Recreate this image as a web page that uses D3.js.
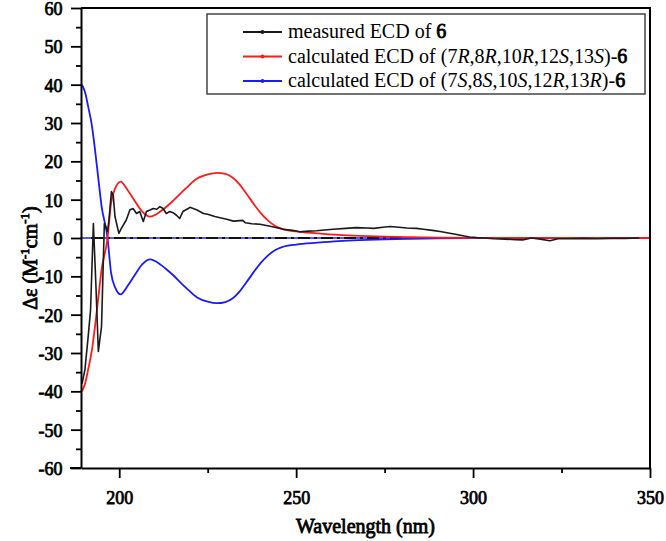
<!DOCTYPE html>
<html><head><meta charset="utf-8">
<script src="https://cdn.jsdelivr.net/npm/d3@7/dist/d3.min.js"></script>
<style>body{margin:0;background:#fff}svg{display:block}text{font-family:"Liberation Serif","Times New Roman",serif}</style>
</head><body><svg id="c" width="666" height="541"></svg>
<script>
// wavelength (nm) / Δε values
const measuredNm = [189.5,190.3,191.2,191.9,192.7,193.4,194.1,195.0,195.8,196.2,196.7,197.1,197.8,198.3,198.8,199.9,200.6,202.0,203.0,203.9,204.9,205.8,206.8,207.7,208.7,209.6,210.6,211.5,212.4,213.3,214.3,215.2,216.1,217.1,218.0,219.5,220.0,222.0,223.8,225.0,227.0,228.5,230.4,232.3,234.9,235.6,237.5,239.8,243.0,246.4,249.0,251.0,253.5,255.8,258.0,260.5,264.0,267.0,270.0,272.0,274.5,276.6,279.0,281.3,284.0,286.0,288.5,290.7,293.0,295.4,297.5,299.0,301.0,303.0,306.0,309.0,312.0,314.0,316.5,319.0,321.7,324.0,327.0,331.0,335.0,339.0,343.0,347.0];
const measuredDe = [-38,-34.4,-26,-18.8,3.8,-12,-29.6,-23.1,3.8,3.0,1.7,4.7,12.1,11.2,5.6,1.2,2.5,4.7,7.3,7.7,6.4,6.9,4.3,6.9,7.3,7.7,7.5,8.2,7.7,6.4,6.9,6.6,6.0,5.1,6.9,7.7,8.0,7.3,6.4,6.2,5.6,5.3,4.9,4.4,4.6,4.0,3.7,3.6,3.0,2.3,2.0,1.65,1.8,1.9,2.1,2.3,2.5,2.7,2.6,2.5,2.8,3.0,2.8,2.6,2.5,2.3,2.0,1.7,1.3,0.9,0.5,0.25,0.1,0.0,-0.2,-0.3,-0.45,-0.5,0.0,-0.3,-0.7,-0.2,-0.2,-0.1,-0.2,-0.1,-0.1,0.0];

const calcNm = [189.2,189.5,190.4,191.2,192.3,193.1,194.1,195.0,196.7,197.7,198.9,200.4,202.3,204.5,206.5,208.7,211.6,214.4,218.9,222.0,225.0,227.6,230.0,232.0,234.0,236.0,238.0,240.0,242.0,244.0,246.0,250.0,256.0,262.0,268.0,275.0,282.0,290.0,300.0,350.0];
const calcRRRSS = [-40,-39.8,-37.8,-34.4,-29.2,-23.5,-15.5,-8.4,0,9.1,13,14.7,12.6,9.5,6.9,5.6,6.9,9.0,13.0,15.5,16.6,17.0,16.7,15.8,14.0,11.5,8.9,6.5,4.6,3.2,2.4,1.7,1.2,0.8,0.55,0.35,0.2,0.1,0.03,0];
const calcSSSRR = [40,39.8,37.8,34.4,29.2,23.5,15.5,8.4,0,-9.1,-13,-14.7,-12.6,-9.5,-6.9,-5.6,-6.9,-9.0,-13.0,-15.5,-16.6,-17.0,-16.7,-15.8,-14.0,-11.5,-8.9,-6.5,-4.6,-3.2,-2.4,-1.7,-1.2,-0.8,-0.55,-0.35,-0.2,-0.1,-0.03,0];

const xMajor = [200,250,300,350];
const xMinor = [225,275,325];
const yMajor = [-60,-50,-40,-30,-20,-10,0,10,20,30,40,50,60];
const yMinor = [-55,-45,-35,-25,-15,-5,5,15,25,35,45,55];

const svg = d3.select("#c");
const L=81,R=650,T=8,B=468;
const x = d3.scaleLinear().domain([189.2,350]).range([L,R]);
const y = d3.scaleLinear().domain([-60,60]).range([B,T]);
const fmt = d => String(d);

// faux bold (bold serif face not available)
const bold = sel => sel.attr("font-weight","normal").attr("stroke","#000").attr("stroke-width",0.75).attr("fill","#000");

// zero reference line
svg.append("line").attr("x1",L).attr("x2",R).attr("y1",y(0)).attr("y2",y(0))
  .attr("stroke","#1f1fff").attr("stroke-width",1.6);
svg.append("line").attr("x1",L+10).attr("x2",R).attr("y1",y(0)).attr("y2",y(0))
  .attr("stroke","#111").attr("stroke-width",2.2).attr("stroke-dasharray","12,4,3,4");

const line = d3.line().x(d=>x(d[0])).y(d=>y(d[1]));
const smooth = d3.line().x(d=>x(d[0])).y(d=>y(d[1])).curve(d3.curveMonotoneX);

svg.append("path").datum(calcNm.map((n,i)=>[n,calcSSSRR[i]])).attr("d",smooth)
  .attr("fill","none").attr("stroke","#1a1aff").attr("stroke-width",1.8);
svg.append("path").datum(calcNm.map((n,i)=>[n,calcRRRSS[i]])).attr("d",smooth)
  .attr("fill","none").attr("stroke","#ff1a1a").attr("stroke-width",1.8);
svg.append("path").datum(measuredNm.map((n,i)=>[n,measuredDe[i]])).attr("d",line)
  .attr("fill","none").attr("stroke","#1a1a1a").attr("stroke-width",1.6).attr("stroke-linejoin","round");

// frame
svg.append("path").attr("d",`M${L},${T}H${R}V${B}`).attr("fill","none").attr("stroke","#000").attr("stroke-width",2);

// axes
const xAx = svg.append("g").attr("transform",`translate(0,${B})`)
  .call(d3.axisBottom(x).tickValues(xMajor).tickSize(10).tickSizeOuter(0).tickFormat(fmt));
svg.append("g").attr("transform",`translate(0,${B})`)
  .call(d3.axisBottom(x).tickValues(xMinor).tickSize(5).tickSizeOuter(0).tickFormat(""))
  .call(g=>g.select(".domain").remove());
const yAx = svg.append("g").attr("transform",`translate(${L},0)`)
  .call(d3.axisLeft(y).tickValues(yMajor).tickSize(10).tickSizeOuter(0).tickFormat(fmt));
svg.append("g").attr("transform",`translate(${L},0)`)
  .call(d3.axisLeft(y).tickValues(yMinor).tickSize(5).tickSizeOuter(0).tickFormat(""))
  .call(g=>g.select(".domain").remove());
svg.selectAll(".domain").attr("stroke","#000").attr("stroke-width",2);
svg.selectAll(".tick line").attr("stroke","#000").attr("stroke-width",1.8);
xAx.selectAll("text").attr("font-size",18).attr("dy","1.3em").call(bold);
yAx.selectAll("text").attr("font-size",18).attr("dx","-0.3em").attr("dy","0.36em").call(bold);
svg.append("line").attr("x1",L-11).attr("x2",L).attr("y1",B).attr("y2",B).attr("stroke","#000").attr("stroke-width",2);

// axis titles
svg.append("text").attr("x",(L+R)/2).attr("y",533).attr("text-anchor","middle")
  .attr("font-size",20).call(bold).attr("stroke-width",0.8).text("Wavelength (nm)");
const yt = svg.append("text").attr("transform",`translate(37,258) rotate(-90)`).attr("text-anchor","middle")
  .attr("font-size",20).call(bold).attr("stroke-width",0.8);
yt.append("tspan").text("Δε (M");
yt.append("tspan").attr("font-size",13).attr("dy",-8).text("-1");
yt.append("tspan").attr("dy",8).text("cm");
yt.append("tspan").attr("font-size",13).attr("dy",-8).text("-1");
yt.append("tspan").attr("dy",8).text(")");

// legend
const lg = svg.append("g");
lg.append("rect").attr("x",207).attr("y",14).attr("width",438).attr("height",80)
  .attr("fill","#fff").attr("stroke","#444").attr("stroke-width",1.5);
const legendItems = [
  {color:"#1a1a1a", parts:[["measured ECD of ",""],["6","b"]]},
  {color:"#ff1a1a", parts:[["calculated ECD of (7",""],["R","i"],[",8",""],["R","i"],[",10",""],["R","i"],[",12",""],["S","i"],[",13",""],["S","i"],[")-",""],["6","b"]]},
  {color:"#1a1aff", parts:[["calculated ECD of (7",""],["S","i"],[",8",""],["S","i"],[",10",""],["S","i"],[",12",""],["R","i"],[",13",""],["R","i"],[")-",""],["6","b"]]}
];
legendItems.forEach((it,i)=>{
  const yy = 32 + i*24.5;
  lg.append("line").attr("x1",243).attr("x2",282).attr("y1",yy).attr("y2",yy).attr("stroke",it.color).attr("stroke-width",1.8);
  lg.append("circle").attr("cx",262.5).attr("cy",yy).attr("r",2).attr("fill",it.color);
  const t = lg.append("text").attr("x",288).attr("y",yy+6).attr("font-size",20).attr("fill","#000");
  it.parts.forEach(p=>{
    const s=t.append("tspan").text(p[0]);
    if(p[1]==="b") s.attr("stroke","#000").attr("stroke-width",0.8);
    if(p[1]==="i") s.attr("font-style","italic");
  });
});
</script></body></html>
